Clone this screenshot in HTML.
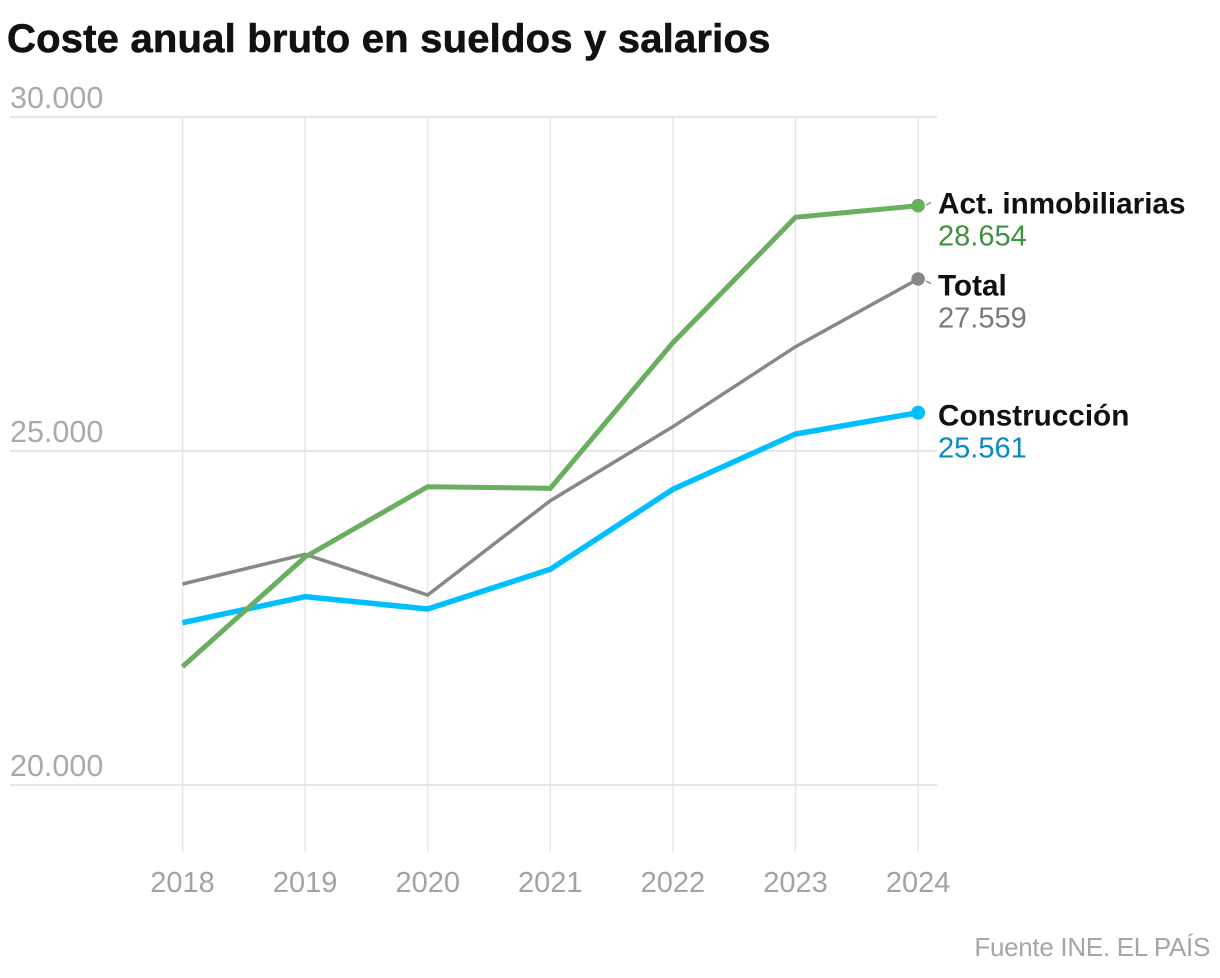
<!DOCTYPE html>
<html>
<head>
<meta charset="utf-8">
<style>
  html, body { margin: 0; padding: 0; background: #ffffff; }
  svg { display: block; }
  text { font-family: "Liberation Sans", Arial, sans-serif; }
</style>
</head>
<body>
<svg width="1220" height="978" viewBox="0 0 1220 978" xmlns="http://www.w3.org/2000/svg">
  <rect width="1220" height="978" fill="#ffffff"/>

  <!-- Title -->
  <text x="7" y="52" font-size="40" font-weight="bold" fill="#111111" stroke="#111111" stroke-width="0.6" letter-spacing="0.2">Coste anual bruto en sueldos y salarios</text>

  <!-- Vertical gridlines -->
  <g stroke="#e6e6e6" stroke-width="1.5">
    <line x1="182.5" y1="117" x2="182.5" y2="852"/>
    <line x1="305.1" y1="117" x2="305.1" y2="852"/>
    <line x1="427.7" y1="117" x2="427.7" y2="852"/>
    <line x1="550.3" y1="117" x2="550.3" y2="852"/>
    <line x1="672.9" y1="117" x2="672.9" y2="852"/>
    <line x1="795.5" y1="117" x2="795.5" y2="852"/>
    <line x1="918.1" y1="117" x2="918.1" y2="852"/>
  </g>

  <!-- Horizontal gridlines -->
  <g stroke="#e6e6e6" stroke-width="2">
    <line x1="10" y1="117" x2="937" y2="117"/>
    <line x1="10" y1="451" x2="937" y2="451"/>
    <line x1="10" y1="785" x2="937" y2="785"/>
  </g>

  <!-- Y axis labels -->
  <g font-size="30.5" fill="#aaaaaa">
    <text x="10" y="108">30.000</text>
    <text x="10" y="442">25.000</text>
    <text x="10" y="776">20.000</text>
  </g>

  <!-- X axis labels -->
  <g font-size="29" fill="#a3a3a3" text-anchor="middle">
    <text x="182.5" y="892">2018</text>
    <text x="305.1" y="892">2019</text>
    <text x="427.7" y="892">2020</text>
    <text x="550.3" y="892">2021</text>
    <text x="672.9" y="892">2022</text>
    <text x="795.5" y="892">2023</text>
    <text x="918.1" y="892">2024</text>
  </g>

  <!-- Series: Total (gray) -->
  <polyline fill="none" stroke="#888888" stroke-width="3.5" stroke-linejoin="miter"
    points="182.5,584 305.1,554.3 427.7,595 550.3,500.7 672.9,426.7 795.5,346.7 918.1,279"/>
  <!-- Series: Construcción (blue) -->
  <polyline fill="none" stroke="#00bfff" stroke-width="5.5" stroke-linejoin="miter"
    points="182.5,622.7 305.1,596.7 427.7,609 550.3,569.3 672.9,489.3 795.5,434 918.1,412.7"/>
  <!-- Series: Act. inmobiliarias (green) -->
  <polyline fill="none" stroke="#69af5f" stroke-width="5" stroke-linejoin="miter"
    points="182.5,666.7 305.1,557 427.7,486.7 550.3,488.3 672.9,342.7 795.5,217.3 918.1,205.7"/>

  <!-- End dots -->
  <circle cx="918.1" cy="205.7" r="6.8" fill="#69af5f"/>
  <circle cx="918.1" cy="279" r="6.8" fill="#888888"/>
  <circle cx="918.1" cy="412.7" r="7" fill="#00bfff"/>

  <!-- Small connectors -->
  <line x1="926" y1="205" x2="931" y2="202.5" stroke="#69af5f" stroke-width="1.5"/>
  <line x1="926" y1="281" x2="931" y2="283.5" stroke="#888888" stroke-width="1.5"/>

  <!-- Labels -->
  <g font-size="29">
    <text x="938" y="213.5" font-size="29.7" font-weight="bold" fill="#111111">Act. inmobiliarias</text>
    <text x="938" y="245.7" fill="#3d9140">28.654</text>
    <text x="938" y="295.7" font-size="29.7" font-weight="bold" fill="#111111">Total</text>
    <text x="938" y="327.7" fill="#7a7a7a">27.559</text>
    <text x="938" y="425.7" font-size="29.7" font-weight="bold" fill="#111111">Construcción</text>
    <text x="938" y="457.3" fill="#0a88c8">25.561</text>
  </g>

  <!-- Source -->
  <text x="1210" y="956" font-size="26" fill="#a6a6a6" text-anchor="end" letter-spacing="-0.3">Fuente INE. EL PAÍS</text>
</svg>
</body>
</html>
